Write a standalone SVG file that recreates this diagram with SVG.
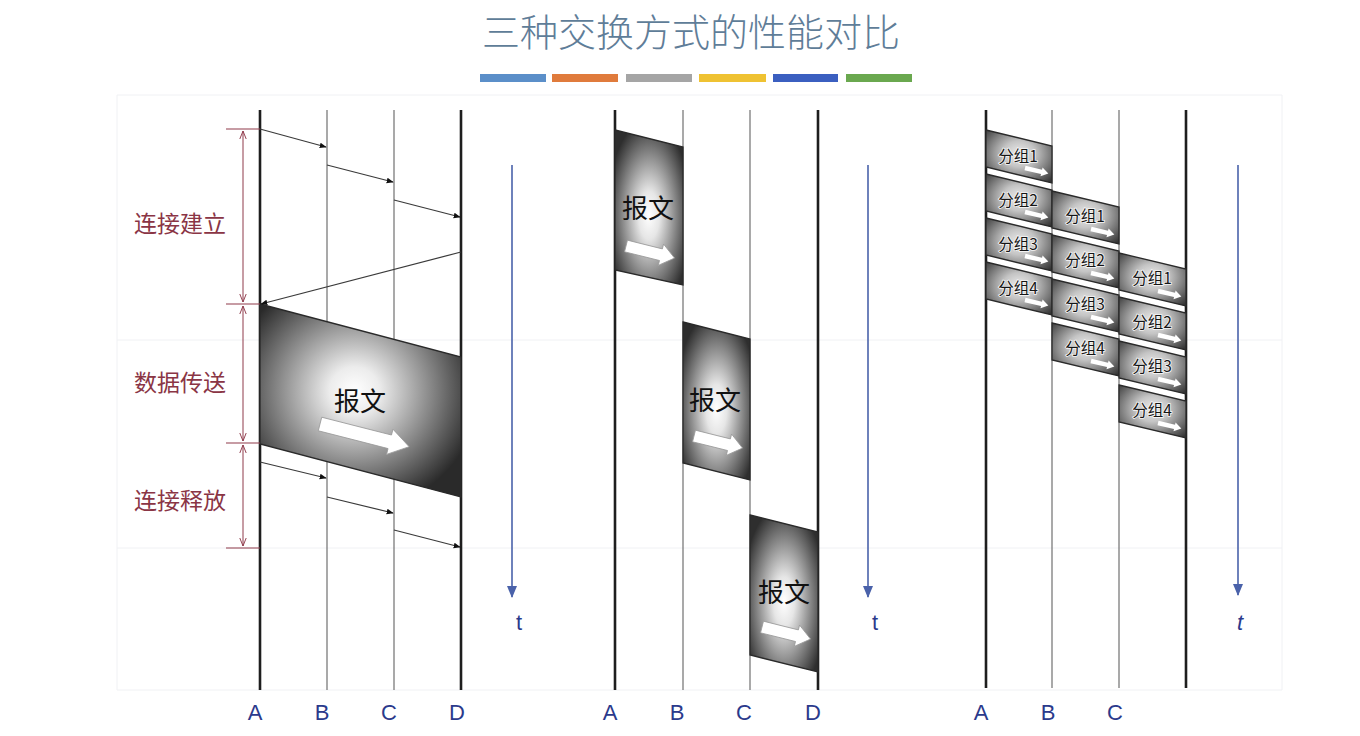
<svg xmlns="http://www.w3.org/2000/svg" xmlns:xlink="http://www.w3.org/1999/xlink" width="1360" height="736" viewBox="0 0 1360 736">
<style>
.grid{stroke:#f0f1f4;stroke-width:1;fill:none}
.thick{stroke:#1e1e1e;stroke-width:2.6}
.thin{stroke:#707070;stroke-width:1.2}
.msg{stroke:#3a3a3a;stroke-width:1.2;fill:none;marker-end:url(#ah)}
.brk{stroke:#8f3a4a;stroke-width:1.1;fill:none}
.brka{stroke:#8f3a4a;stroke-width:1;fill:none;marker-start:url(#va);marker-end:url(#va)}
.phase{font-family:"Noto Sans CJK SC","Noto Sans",sans-serif;font-size:23px;fill:#8a3545;text-anchor:middle}
.node{font-family:"Liberation Sans",Arial,sans-serif;font-size:22px;fill:#2b3a8c;text-anchor:middle}
.tl{font-family:"Liberation Sans",Arial,sans-serif;font-size:22px;fill:#2b3a8c;text-anchor:middle}
.big{font-family:"Noto Sans CJK SC",sans-serif;font-size:26px;fill:#111;text-anchor:middle}
.pk{font-family:"Noto Sans CJK SC",sans-serif;font-size:15.5px;fill:#151515;text-anchor:middle;stroke:#f4f4f4;stroke-width:1.6;paint-order:stroke}
.blk{stroke:#2a2a2a;stroke-width:1.3}
.warrow{fill:#fff;stroke:#9a9a9a;stroke-width:0.8}
.tarrow{stroke:#4a62aa;stroke-width:1.6;marker-end:url(#ta)}
</style>
<defs>
<marker id="ah" viewBox="0 0 10 10" refX="9" refY="5" markerWidth="7" markerHeight="7" orient="auto" markerUnits="userSpaceOnUse"><path d="M0,1 L10,5 L0,9 z" fill="#111"/></marker>
<marker id="va" viewBox="0 0 10 10" refX="10" refY="5" markerWidth="8" markerHeight="8" orient="auto-start-reverse" markerUnits="userSpaceOnUse"><path d="M0,1 L10,5 L0,9" fill="none" stroke="#8f3a4a" stroke-width="1.2"/></marker>
<marker id="ta" viewBox="0 0 12 10" refX="11" refY="5" markerWidth="12" markerHeight="10" orient="auto" markerUnits="userSpaceOnUse"><path d="M0,0 L12,5 L0,10 z" fill="#4a62aa"/></marker>
<radialGradient id="gBig" cx="0.47" cy="0.45" r="0.62"><stop offset="0" stop-color="#ffffff"/><stop offset="0.2" stop-color="#ececec"/><stop offset="1" stop-color="#2a2a2a"/></radialGradient>
<radialGradient id="gMid" cx="0.5" cy="0.55" r="0.62"><stop offset="0" stop-color="#ffffff"/><stop offset="0.25" stop-color="#e6e6e6"/><stop offset="1" stop-color="#2e2e2e"/></radialGradient>
<radialGradient id="gPk" cx="0.5" cy="0.45" r="0.7"><stop offset="0" stop-color="#ececec"/><stop offset="0.35" stop-color="#c4c4c4"/><stop offset="1" stop-color="#353535"/></radialGradient>
<path id="arrBig" class="warrow" d="M0,-7 L72,-7 L72,-13 L92,0 L72,13 L72,7 L0,7 Z"/>
<path id="arrMid" class="warrow" d="M0,-6 L36,-6 L36,-11 L50,0 L36,11 L36,6 L0,6 Z"/>
<path id="arrPk" fill="#fff" d="M0,-2.2 L17,-2.2 L17,-4.5 L24,0 L17,4.5 L17,2.2 L0,2.2 Z"/>
<polygon id="pkShape" class="blk" fill="url(#gPk)" points="0,0 67,16 67,53 0,37"/>
</defs>
<rect width="1360" height="736" fill="#ffffff"/>
<g id="background-grid">
<line class="grid" x1="117" y1="95" x2="1282" y2="95"/>
<line class="grid" x1="117" y1="340" x2="1282" y2="340"/>
<line class="grid" x1="117" y1="548" x2="1282" y2="548"/>
<line class="grid" x1="117" y1="690" x2="1282" y2="690"/>
<line class="grid" x1="117" y1="95" x2="117" y2="690"/>
<line class="grid" x1="1282" y1="95" x2="1282" y2="690"/>
</g>
<g id="title">
<text x="691" y="46" text-anchor="middle" font-family="Noto Sans CJK SC,sans-serif" font-size="38" fill="#5f7d98" font-weight="300">三种交换方式的性能对比</text>
<rect x="480" y="74" width="66" height="8" fill="#5b8fc9"/>
<rect x="552" y="74" width="66" height="8" fill="#e07b3c"/>
<rect x="626" y="74" width="66" height="8" fill="#a5a5a5"/>
<rect x="699" y="74" width="67" height="8" fill="#efc232"/>
<rect x="773" y="74" width="65" height="8" fill="#3b5fc0"/>
<rect x="846" y="74" width="66" height="8" fill="#6aa84f"/>
</g>
<!-- Circuit switching panel -->
<g id="circuit-lines">
<line class="thick" x1="260" y1="110" x2="260" y2="690"/>
<line class="thin" x1="327" y1="110" x2="327" y2="690"/>
<line class="thin" x1="394" y1="110" x2="394" y2="690"/>
<line class="thick" x1="461" y1="110" x2="461" y2="690"/>
</g>
<g id="circuit-data">
<polygon class="blk" fill="url(#gBig)" points="260,304 461,357 461,497 260,444"/>
<text class="big" x="360" y="411">报文</text>
<use href="#arrBig" transform="translate(320,424) rotate(14.3)"/>
</g>
<g id="circuit-phases">
<line class="brk" x1="226" y1="129" x2="260" y2="129"/>
<line class="brk" x1="226" y1="304" x2="260" y2="304"/>
<line class="brk" x1="226" y1="443" x2="260" y2="443"/>
<line class="brk" x1="226" y1="548" x2="260" y2="548"/>
<line class="brka" x1="243" y1="131" x2="243" y2="302"/>
<line class="brka" x1="243" y1="306" x2="243" y2="441"/>
<line class="brka" x1="243" y1="445" x2="243" y2="546"/>
<text class="phase" x="180" y="232">连接建立</text>
<text class="phase" x="180" y="391">数据传送</text>
<text class="phase" x="180" y="509">连接释放</text>
</g>
<g id="connectors">
<line class="msg" x1="260" y1="129" x2="326" y2="147"/>
<line class="msg" x1="327" y1="165" x2="393" y2="182"/>
<line class="msg" x1="394" y1="200" x2="460" y2="217"/>
<line class="msg" x1="461" y1="252" x2="261" y2="304"/>
<line class="msg" x1="260" y1="462" x2="326" y2="478"/>
<line class="msg" x1="327" y1="497" x2="393" y2="513"/>
<line class="msg" x1="394" y1="530" x2="460" y2="547"/>
<line class="tarrow" x1="512" y1="165" x2="512" y2="597"/>
<line class="tarrow" x1="868" y1="165" x2="868" y2="597"/>
<line class="tarrow" x1="1238" y1="165" x2="1238" y2="595"/>
</g>
<g id="circuit-labels">
<text class="node" x="255" y="720">A</text>
<text class="node" x="322" y="720">B</text>
<text class="node" x="389" y="720">C</text>
<text class="node" x="457" y="720">D</text>
<text class="tl" x="519" y="630">t</text>
</g>
<!-- Message switching panel -->
<g id="message-lines">
<line class="thick" x1="615" y1="110" x2="615" y2="690"/>
<line class="thin" x1="683" y1="110" x2="683" y2="690"/>
<line class="thin" x1="750" y1="110" x2="750" y2="690"/>
<line class="thick" x1="818" y1="110" x2="818" y2="690"/>
</g>
<g id="message-ab">
<polygon class="blk" fill="url(#gMid)" points="615,130 683,147 683,285 615,270"/>
<text class="big" x="648" y="218">报文</text>
<use href="#arrMid" transform="translate(626,246) rotate(14)"/>
</g>
<g id="message-bc">
<polygon class="blk" fill="url(#gMid)" points="683,322 750,339 750,480 683,463"/>
<text class="big" x="715" y="410">报文</text>
<use href="#arrMid" transform="translate(694,436) rotate(14)"/>
</g>
<g id="message-cd">
<polygon class="blk" fill="url(#gMid)" points="750,515 818,532 818,672 750,655"/>
<text class="big" x="784" y="602">报文</text>
<use href="#arrMid" transform="translate(762,627) rotate(14)"/>
</g>
<g id="message-labels">
<text class="node" x="610" y="720">A</text>
<text class="node" x="677" y="720">B</text>
<text class="node" x="744" y="720">C</text>
<text class="node" x="813" y="720">D</text>
<text class="tl" x="875" y="630">t</text>
</g>
<!-- Packet switching panel -->
<g id="packet-lines">
<line class="thick" x1="986" y1="110" x2="986" y2="688"/>
<line class="thin" x1="1052" y1="110" x2="1052" y2="688"/>
<line class="thin" x1="1119" y1="110" x2="1119" y2="688"/>
<line class="thick" x1="1186" y1="110" x2="1186" y2="688"/>
</g>
<g id="pkt-ab-1"><use href="#pkShape" transform="translate(986,130) scale(0.985,1)"/><text class="pk" x="1018" y="162">分组1</text><use href="#arrPk" transform="translate(1025,168) rotate(13.5)"/></g>
<g id="pkt-ab-2"><use href="#pkShape" transform="translate(986,174) scale(0.985,1)"/><text class="pk" x="1018" y="206">分组2</text><use href="#arrPk" transform="translate(1025,212) rotate(13.5)"/></g>
<g id="pkt-ab-3"><use href="#pkShape" transform="translate(986,218) scale(0.985,1)"/><text class="pk" x="1018" y="250">分组3</text><use href="#arrPk" transform="translate(1025,256) rotate(13.5)"/></g>
<g id="pkt-ab-4"><use href="#pkShape" transform="translate(986,262) scale(0.985,1)"/><text class="pk" x="1018" y="294">分组4</text><use href="#arrPk" transform="translate(1025,300) rotate(13.5)"/></g>
<g id="pkt-bc-1"><use href="#pkShape" transform="translate(1052,191)"/><text class="pk" x="1085" y="222">分组1</text><use href="#arrPk" transform="translate(1091,229) rotate(13.5)"/></g>
<g id="pkt-bc-2"><use href="#pkShape" transform="translate(1052,235)"/><text class="pk" x="1085" y="266">分组2</text><use href="#arrPk" transform="translate(1091,273) rotate(13.5)"/></g>
<g id="pkt-bc-3"><use href="#pkShape" transform="translate(1052,279)"/><text class="pk" x="1085" y="310">分组3</text><use href="#arrPk" transform="translate(1091,317) rotate(13.5)"/></g>
<g id="pkt-bc-4"><use href="#pkShape" transform="translate(1052,323)"/><text class="pk" x="1085" y="354">分组4</text><use href="#arrPk" transform="translate(1091,361) rotate(13.5)"/></g>
<g id="pkt-cd-1"><use href="#pkShape" transform="translate(1119,253)"/><text class="pk" x="1152" y="284">分组1</text><use href="#arrPk" transform="translate(1158,291) rotate(13.5)"/></g>
<g id="pkt-cd-2"><use href="#pkShape" transform="translate(1119,297)"/><text class="pk" x="1152" y="328">分组2</text><use href="#arrPk" transform="translate(1158,335) rotate(13.5)"/></g>
<g id="pkt-cd-3"><use href="#pkShape" transform="translate(1119,341)"/><text class="pk" x="1152" y="372">分组3</text><use href="#arrPk" transform="translate(1158,379) rotate(13.5)"/></g>
<g id="pkt-cd-4"><use href="#pkShape" transform="translate(1119,385)"/><text class="pk" x="1152" y="416">分组4</text><use href="#arrPk" transform="translate(1158,423) rotate(13.5)"/></g>
<g id="packet-labels">
<text class="node" x="981" y="720">A</text>
<text class="node" x="1048" y="720">B</text>
<text class="node" x="1115" y="720">C</text>
<text class="tl" x="1240" y="630" font-style="italic" fill="#555">t</text>
</g>
</svg>
